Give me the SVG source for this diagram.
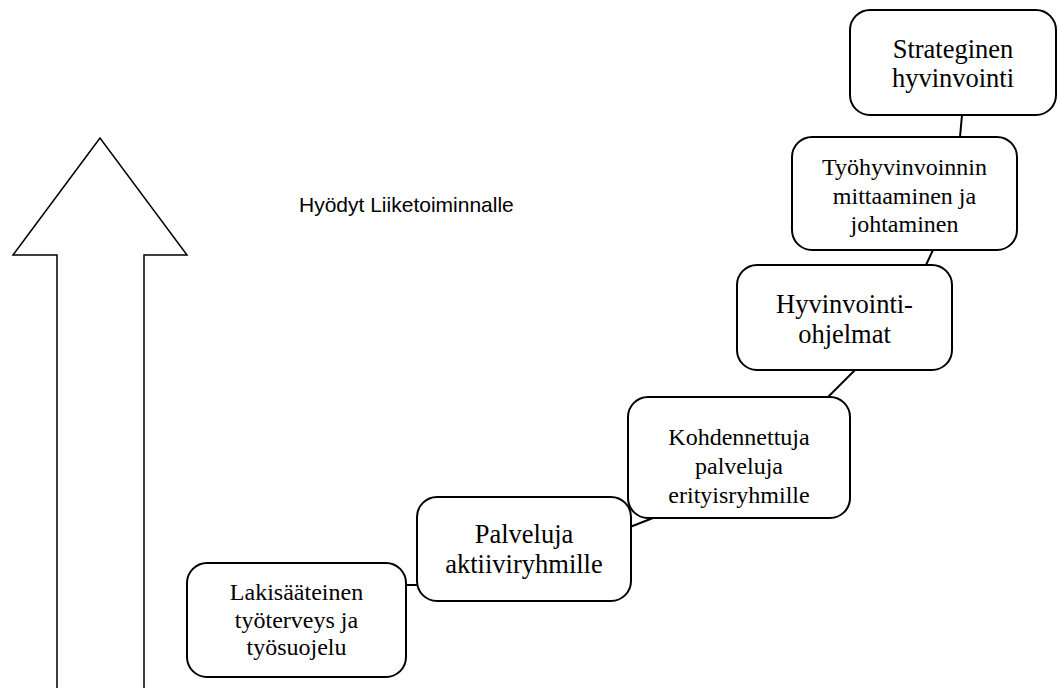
<svg xmlns="http://www.w3.org/2000/svg" width="1058" height="688" viewBox="0 0 1058 688">
<style>
.box{fill:#fff;stroke:#000;stroke-width:2}
.t{font-family:"Liberation Serif","Times New Roman",serif;fill:#000;text-anchor:middle}
.big{font-size:26.5px}
.sm{font-size:24px}
.con{stroke:#000;stroke-width:2;fill:none}
</style>
<rect width="1058" height="688" fill="#fff"/>
<g id="arrow">
<polygon points="100,138 13,255 57,255 57,700 144,700 144,255 187,255" fill="#fff" stroke="#000" stroke-width="1.5"/>
</g>
<g id="label">
<text x="299" y="212" font-family="'Liberation Sans',Arial,sans-serif" font-size="21">Hyödyt Liiketoiminnalle</text>
</g>
<g id="connectors">
<line class="con" x1="406" y1="585" x2="417" y2="585"/>
<line class="con" x1="630" y1="527" x2="653" y2="518"/>
<line class="con" x1="828" y1="397" x2="855" y2="370"/>
<line class="con" x1="933" y1="250" x2="926" y2="265"/>
<line class="con" x1="962" y1="115" x2="960" y2="137"/>
</g>
<g id="n1">
<rect class="box" x="187" y="563" width="219" height="114" rx="20"/>
<text class="t sm" x="296.5" y="600">Lakisääteinen</text>
<text class="t sm" x="296.5" y="627.5">työterveys ja</text>
<text class="t sm" x="296.5" y="655">työsuojelu</text>
</g>
<g id="n2">
<rect class="box" x="417" y="497" width="214" height="104" rx="20"/>
<text class="t big" x="524" y="543">Palveluja</text>
<text class="t big" x="524" y="573">aktiiviryhmille</text>
</g>
<g id="n3">
<rect class="box" x="628" y="397" width="222" height="121" rx="20"/>
<text class="t sm" x="739" y="445">Kohdennettuja</text>
<text class="t sm" x="739" y="474">palveluja</text>
<text class="t sm" x="739" y="503">erityisryhmille</text>
</g>
<g id="n4">
<rect class="box" x="737" y="265" width="215" height="105" rx="20"/>
<text class="t big" x="844.5" y="313">Hyvinvointi-</text>
<text class="t big" x="844.5" y="343">ohjelmat</text>
</g>
<g id="n5">
<rect class="box" x="792" y="137" width="225" height="113" rx="20"/>
<text class="t sm" x="904.5" y="175">Työhyvinvoinnin</text>
<text class="t sm" x="904.5" y="204">mittaaminen ja</text>
<text class="t sm" x="904.5" y="232">johtaminen</text>
</g>
<g id="n6">
<rect class="box" x="850" y="10" width="206" height="105" rx="20"/>
<text class="t big" x="953" y="58">Strateginen</text>
<text class="t big" x="953" y="87">hyvinvointi</text>
</g>
</svg>
